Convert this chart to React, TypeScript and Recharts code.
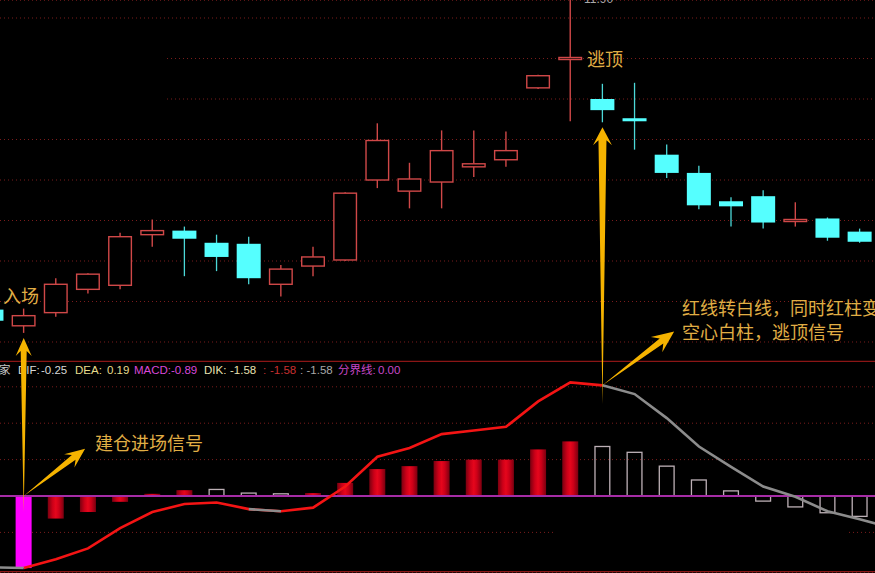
import React from 'react';
import { ComposedChart, Bar, Line, XAxis, YAxis, ReferenceLine, CartesianGrid } from 'recharts';

const W = 875;
const H = 573;

// first entry is the half-hidden candle at the left edge
const firstDay = -1;

const openPrices = [8.82, 8.66, 8.79, 9.02, 9.06, 9.56, 9.6, 9.48, 9.47, 9.07, 9.25, 9.31, 10.1, 9.99, 10.08, 10.23, 10.3, 11.01, 11.29, 10.9, 10.71, 10.35, 10.17, 9.89, 9.94, 9.69, 9.72, 9.59];
const highPrices = [8.84, 8.83, 9.13, 9.18, 9.58, 9.71, 9.64, 9.56, 9.54, 9.26, 9.44, 9.98, 10.66, 10.27, 10.59, 10.59, 10.58, 11.14, 11.9, 11.05, 11.06, 10.45, 10.24, 9.93, 10.0, 9.88, 9.73, 9.62];
const lowPrices = [8.69, 8.59, 8.75, 8.98, 9.02, 9.44, 9.15, 9.2, 9.07, 8.95, 9.15, 9.3, 10.02, 9.82, 9.82, 10.13, 10.23, 11.0, 10.68, 10.67, 10.4, 10.12, 9.81, 9.64, 9.62, 9.64, 9.5, 9.48];
const closePrices = [8.71, 8.76, 9.07, 9.17, 9.54, 9.6, 9.52, 9.34, 9.13, 9.22, 9.34, 9.97, 10.49, 10.11, 10.39, 10.26, 10.39, 11.13, 11.31, 10.79, 10.68, 10.17, 9.85, 9.84, 9.68, 9.71, 9.53, 9.49];

const macdBars = [null, -0.99, -0.31, -0.22, -0.08, 0.03, 0.08, 0.09, 0.04, 0.03, 0.04, 0.18, 0.37, 0.41, 0.48, 0.5, 0.5, 0.64, 0.75, 0.68, 0.6, 0.41, 0.22, 0.07, -0.07, -0.15, -0.23, -0.28];
// m = entry bar, r = red bar, h = hollow white bar
const macdKinds = [null, 'm', 'r', 'r', 'r', 'r', 'r', 'h', 'h', 'h', 'r', 'r', 'r', 'r', 'r', 'r', 'r', 'r', 'r', 'h', 'h', 'h', 'h', 'h', 'h', 'h', 'h', 'h'];

// DIK line runs one day further than the candles (off screen on the right)
const dikLine = [-0.98, -0.99, -0.87, -0.72, -0.44, -0.22, -0.11, -0.09, -0.18, -0.21, -0.16, 0.13, 0.54, 0.66, 0.85, 0.9, 0.95, 1.3, 1.56, 1.52, 1.4, 1.07, 0.68, 0.4, 0.13, -0.01, -0.21, -0.32, -0.44];
const dikRedRuns = [[0, 18]];
const dikWhiteRuns = [[-1, 0], [7, 8], [18, 27]];

const priceTicks = [8.5, 8.9, 9.3, 9.7, 10.1, 10.5, 10.9, 11.3, 11.7];
const macdTicks = [-0.5, 0.5, 1.0, 1.5];
const paneSeparator = 1.85; // macd units, line between the two panes
const paneBottom = -1.04;

const entryDay = 0;
const exitDay = 18;

const xDomain: [number, number] = [-0.737, 26.476];
const priceDomain: [number, number] = [6.2185, 11.8778];
const macdDomain: [number, number] = [-1.0577, 6.8132];

const inRuns = (runs: number[][], d: number) => runs.some(([a, b]) => d >= a && d <= b);

const rows = dikLine.map((dik, i) => {
  const day = firstDay + i;
  return {
    day,
    open: openPrices[i] ?? null,
    high: highPrices[i] ?? null,
    low: lowPrices[i] ?? null,
    close: closePrices[i] ?? null,
    macd: macdBars[i] ?? null,
    macdKind: macdKinds[i] ?? null,
    dikRed: inRuns(dikRedRuns, day) ? dik : null,
    dikWhite: inRuns(dikWhiteRuns, day) ? dik : null,
  };
});

// both panes share the full chart height, so a price can be re-expressed in macd units
const priceToMacd = (p: number) => {
  const f = (priceDomain[1] - p) / (priceDomain[1] - priceDomain[0]);
  return macdDomain[1] - f * (macdDomain[1] - macdDomain[0]);
};
const yToPrice = (y: number) => priceDomain[1] - (y / H) * (priceDomain[1] - priceDomain[0]);
const yToMacd = (y: number) => macdDomain[1] - (y / H) * (macdDomain[1] - macdDomain[0]);

const RED = '#d04848';
const CYAN = '#55ffff';
const GRID = '#7a1c1c';

// grid lines that are broken off on the original screen (pixel x of the pieces)
const priceGridStart: Record<string, number> = { '11.3': 167, '10.9': 167 };
const macdGridGaps: Record<string, [number, number]> = { '-0.5': [556, 849] };

const priceGridLine = (p: any) => {
  const start = priceGridStart[yToPrice(p.y1).toFixed(1)];
  return <line key={p.key} x1={start ?? p.x1} x2={p.x2} y1={p.y1} y2={p.y2} stroke={GRID} strokeDasharray="1 3" />;
};

const macdGridLine = (p: any) => {
  const gap = macdGridGaps[yToMacd(p.y1).toFixed(1)];
  if (!gap) return <line key={p.key} x1={p.x1} x2={p.x2} y1={p.y1} y2={p.y2} stroke={GRID} strokeDasharray="1 3" />;
  return (
    <g key={p.key}>
      <line x1={p.x1} x2={gap[0]} y1={p.y1} y2={p.y2} stroke={GRID} strokeDasharray="1 3" />
      <line x1={gap[1]} x2={p.x2} y1={p.y1} y2={p.y2} stroke={GRID} strokeDasharray="1 3" />
    </g>
  );
};

const Candle = (props: any) => {
  const { x, y, width, height, payload } = props;
  if (!payload || payload.open == null) return <g />;
  const { open, close, high, low } = payload;
  const y0 = Math.min(y, y + height);
  const h = Math.abs(height);
  const py = (v: number) => y0 + ((high - v) / (high - low)) * h;
  const cx = x + width / 2;
  const top = py(Math.max(open, close));
  const bot = py(Math.min(open, close));
  if (close >= open) {
    return (
      <g>
        <line x1={cx} x2={cx} y1={y0} y2={top} stroke={RED} strokeWidth={1.4} />
        <line x1={cx} x2={cx} y1={bot} y2={y0 + h} stroke={RED} strokeWidth={1.4} />
        <rect x={x + 0.7} y={top} width={width - 1.4} height={Math.max(bot - top, 1.5)} fill="#000" stroke={RED} strokeWidth={1.4} />
      </g>
    );
  }
  return (
    <g>
      <line x1={cx} x2={cx} y1={y0} y2={y0 + h} stroke="#4cd8d8" strokeWidth={1.3} />
      <rect x={x} y={top} width={width} height={Math.max(bot - top, 2)} fill={CYAN} />
    </g>
  );
};

const MacdBar = (props: any) => {
  const { x, y, width, height, payload } = props;
  if (!payload || payload.macdKind == null) return <g />;
  const top = Math.min(y, y + height);
  const h = Math.abs(height);
  if (payload.macdKind === 'm') return <rect x={x} y={top} width={width} height={h} fill="#ff00ff" />;
  if (payload.macdKind === 'r') return <rect x={x} y={top} width={width} height={h} fill="url(#redBar)" />;
  return <rect x={x + 0.6} y={top} width={width - 1.2} height={h} fill="none" stroke="#bdb0b6" strokeWidth={1.3} />;
};

type ArrowSpec = { tail: number; shaft: number; headW: number; headL: number };

const makeArrow = (s: ArrowSpec) => (p: any) => {
  const { x1, y1, x2, y2 } = p;
  const dx = x2 - x1;
  const dy = y2 - y1;
  const len = Math.hypot(dx, dy) || 1;
  const ux = dx / len;
  const uy = dy / len;
  const nx = -uy;
  const ny = ux;
  const tx = x1 - ux * s.tail;
  const ty = y1 - uy * s.tail;
  const jx = x2 - ux * s.headL * 0.72;
  const jy = y2 - uy * s.headL * 0.72;
  const wx = x2 - ux * s.headL;
  const wy = y2 - uy * s.headL;
  const pts = [
    [tx, ty],
    [jx + (nx * s.shaft) / 2, jy + (ny * s.shaft) / 2],
    [wx + (nx * s.headW) / 2, wy + (ny * s.headW) / 2],
    [x2, y2],
    [wx - (nx * s.headW) / 2, wy - (ny * s.headW) / 2],
    [jx - (nx * s.shaft) / 2, jy - (ny * s.shaft) / 2],
  ];
  return <polygon points={pts.map((q) => q.join(',')).join(' ')} fill="#f5b300" />;
};

const entryLow = lowPrices[entryDay - firstDay];
const exitLow = lowPrices[exitDay - firstDay];
const exitDik = dikLine[exitDay - firstDay];

const arrows = [
  { from: { x: entryDay, y: 0 }, to: { x: entryDay, y: priceToMacd(entryLow - 0.05) }, spec: { tail: 16, shaft: 6, headW: 16, headL: 18 } },
  { from: { x: entryDay, y: 0 }, to: { x: entryDay + 1.91, y: 0.65 }, spec: { tail: 0, shaft: 6, headW: 17, headL: 20 } },
  { from: { x: exitDay, y: exitDik }, to: { x: exitDay, y: priceToMacd(exitLow - 0.05) }, spec: { tail: 19, shaft: 8, headW: 19, headL: 18 } },
  { from: { x: exitDay, y: exitDik }, to: { x: exitDay + 2.23, y: 2.26 }, spec: { tail: 0, shaft: 6, headW: 19, headL: 22 } },
];

const indicatorLabels = [
  { text: '家', x: -1, color: '#c8c8c8' },
  { text: 'DIF:', x: 18, color: '#d8d8d8' },
  { text: '-0.25', x: 41, color: '#d8d8d8' },
  { text: 'DEA:', x: 75, color: '#e6dc8c' },
  { text: '0.19', x: 107, color: '#e6dc8c' },
  { text: 'MACD:', x: 134, color: '#d848d8' },
  { text: '-0.89', x: 171, color: '#d848d8' },
  { text: 'DIK:', x: 204, color: '#e8e0b0' },
  { text: '-1.58', x: 230, color: '#e8e0b0' },
  { text: ':', x: 263, color: '#c03030' },
  { text: '-1.58', x: 270, color: '#c83030' },
  { text: ':', x: 300, color: '#a8a8a8' },
  { text: '-1.58', x: 306.5, color: '#a8a8a8' },
  { text: '分界线:', x: 338, color: '#c848c8' },
  { text: '0.00', x: 378, color: '#c848c8' },
];

const notes = [
  { text: '入场', x: 3, y: 303 },
  { text: '逃顶', x: 587, y: 66 },
  { text: '建仓进场信号', x: 95, y: 450 },
  { text: '红线转白线，同时红柱变', x: 682, y: 315 },
  { text: '空心白柱，逃顶信号', x: 682, y: 339 },
];

const GOLD = '#e0ae45';

export default function App() {
  const dayTicks = rows.map((r) => r.day);
  return (
    <div style={{ position: 'fixed', left: 0, top: 0, width: W, height: H, background: '#000', overflow: 'hidden' }}>
      <svg width={0} height={0} style={{ position: 'absolute' }}>
        <defs>
          <linearGradient id="redBar" x1="0" y1="0" x2="1" y2="0">
            <stop offset="0%" stopColor="#7a0010" />
            <stop offset="30%" stopColor="#cc0018" />
            <stop offset="50%" stopColor="#e6061c" />
            <stop offset="70%" stopColor="#cc0018" />
            <stop offset="100%" stopColor="#7a0010" />
          </linearGradient>
        </defs>
      </svg>

      <svg width={W} height={H} style={{ position: 'absolute', left: 0, top: 0, zIndex: 0 }}>
        <text y={374} fontSize={11.5} fontFamily="'Liberation Sans', 'Noto Sans CJK SC', sans-serif">
          {indicatorLabels.map((l, i) => (
            <tspan key={i} x={l.x} fill={l.color}>
              {l.text}
            </tspan>
          ))}
        </text>
      </svg>

      <div style={{ position: 'absolute', left: 0, top: 0, zIndex: 1 }}>
        <ComposedChart width={W} height={H} data={rows} margin={{ top: 0, right: 0, bottom: 0, left: 0 }}>
          {/* two identical day axes so candles and macd bars are not grouped side by side */}
          <XAxis xAxisId="k" type="number" dataKey="day" domain={xDomain} ticks={dayTicks} allowDataOverflow hide />
          <XAxis xAxisId="m" type="number" dataKey="day" domain={xDomain} ticks={dayTicks} allowDataOverflow hide />
          <YAxis yAxisId="price" type="number" domain={priceDomain} ticks={priceTicks} allowDataOverflow hide />
          <YAxis yAxisId="macd" type="number" domain={macdDomain} ticks={macdTicks} allowDataOverflow hide />

          <CartesianGrid xAxisId="k" yAxisId="price" vertical={false} horizontal={priceGridLine} stroke={GRID} />
          <CartesianGrid xAxisId="m" yAxisId="macd" vertical={false} horizontal={macdGridLine} stroke={GRID} />

          <Bar
            xAxisId="k"
            yAxisId="price"
            dataKey={(d: any) => (d.open == null ? null : [d.low, d.high])}
            barSize={24}
            shape={Candle}
            isAnimationActive={false}
          />
          <Bar xAxisId="m" yAxisId="macd" dataKey="macd" barSize={16} shape={MacdBar} isAnimationActive={false} />

          <ReferenceLine xAxisId="m" yAxisId="macd" y={paneSeparator} stroke="#8b1616" strokeWidth={1.2} />
          <ReferenceLine xAxisId="m" yAxisId="macd" y={paneBottom} stroke="#8b1616" strokeWidth={1.2} />
          <ReferenceLine xAxisId="m" yAxisId="macd" y={0} stroke="#a62ca6" strokeWidth={1.8} />

          <Line xAxisId="m" yAxisId="macd" dataKey="dikRed" stroke="#f41414" strokeWidth={2.6} dot={false} activeDot={false} isAnimationActive={false} />
          <Line xAxisId="m" yAxisId="macd" dataKey="dikWhite" stroke="#8c8c8c" strokeWidth={2.6} dot={false} activeDot={false} isAnimationActive={false} />

          {arrows.map((a, i) => (
            <ReferenceLine key={'ar' + i} xAxisId="m" yAxisId="macd" segment={[a.from, a.to]} shape={makeArrow(a.spec)} ifOverflow="visible" />
          ))}
        </ComposedChart>
      </div>

      <svg width={W} height={H} style={{ position: 'absolute', left: 0, top: 0, zIndex: 2, pointerEvents: 'none' }}>
        <text x={584} y={3} fontSize={12} fill="#a8a8a8" fontFamily="'Liberation Sans', sans-serif">
          11.90
        </text>
        {notes.map((n, i) => (
          <text key={i} x={n.x} y={n.y} fontSize={18} fill={GOLD} fontFamily="'Noto Sans CJK SC', sans-serif">
            {n.text}
          </text>
        ))}
      </svg>
    </div>
  );
}
